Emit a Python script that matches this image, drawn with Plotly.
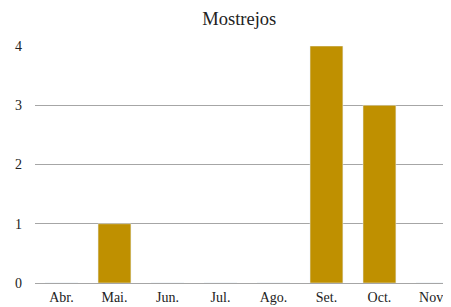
import plotly.graph_objects as go

months = ["Abr.", "Mai.", "Jun.", "Jul.", "Ago.", "Set.", "Oct.", "Nov."]
values = [0, 1, 0, 0, 0, 4, 3, 0]
y_ticks = [0, 1, 2, 3, 4]

fig = go.Figure(go.Bar(x=list(range(len(months))), y=values, marker_color="#BF9000", width=0.62))

fig.update_layout(
    width=443, height=299,
    margin=dict(l=27, r=0, t=38, b=24),
    paper_bgcolor="white", plot_bgcolor="white",
    font=dict(family="Liberation Serif", size=14, color="#222"),
    title=dict(text="Mostrejos", x=0.522, xanchor="center", y=0.964, yanchor="middle",
               font=dict(family="Liberation Serif", size=18.5, color="#222")),
    showlegend=False,
)
fig.update_xaxes(tickvals=list(range(len(months))), ticktext=months, range=[-0.5, 7.35],
                 showgrid=False, zeroline=False, showline=False, ticks="", ticklabelstandoff=4)
fig.update_yaxes(range=[0, 4.001], tickvals=y_ticks, showgrid=True, gridcolor="#A6A6A6", gridwidth=1,
                 zeroline=True, zerolinecolor="#A6A6A6", zerolinewidth=1,
                 showline=False, ticks="", ticklabelstandoff=12)
fig.write_html("out.html")
